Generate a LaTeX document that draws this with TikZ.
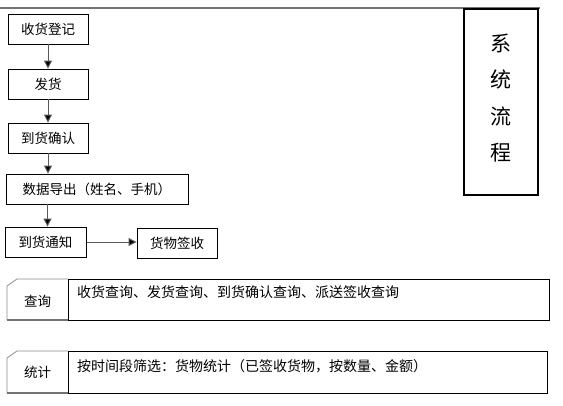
\documentclass[tikz,border=0pt]{standalone}
\usepackage{fontspec}
\setmainfont{Noto Sans CJK SC}
\usetikzlibrary{arrows.meta}
\begin{document}
\begin{tikzpicture}[x=1pt,y=-1pt,
  flowbox/.style={draw=black,line width=0.9pt,minimum height=30pt,inner sep=0pt,font=\fontsize{13.5}{15}\selectfont},
  flowarrow/.style={draw=black!65,line width=1pt,-{Triangle[length=8pt,width=8pt,fill=black]}},
  paneltext/.style={anchor=west,inner sep=0pt,font=\fontsize{14}{16}\selectfont},
  tabtext/.style={inner sep=0pt,font=\fontsize{13.5}{15}\selectfont}]
\useasboundingbox (0,0) rectangle (563,405);
% top rule
\coordinate (ruleL) at (0,8);
\coordinate (ruleR) at (540,8);
\draw[black!55,line width=2pt] (ruleL) -- (ruleR);
% title box
\node[draw=black,line width=2.4pt,minimum width=74pt,minimum height=186pt,inner sep=0pt] (title) at (501,102) {};
\node[font=\fontsize{21}{36.5}\selectfont,align=center,inner sep=0pt] (titletext) at (501,98) {系\\统\\流\\程};
% flow
\node[flowbox,minimum width=80pt] (a) at (48,29) {收货登记};
\node[flowbox,minimum width=80pt] (b) at (48,84) {发货};
\node[flowbox,minimum width=80pt] (c) at (48,138) {到货确认};
\node[flowbox,minimum width=182pt] (d) at (97,189) {数据导出（姓名、手机）};
\node[flowbox,minimum width=81pt] (e) at (45.5,242) {到货通知};
\node[flowbox,minimum width=80pt] (f) at (177,243) {货物签收};
\draw[flowarrow] (a.south) -- (b.north);
\draw[flowarrow] (b.south) -- (c.north);
\draw[flowarrow] (c.south) -- (c.south |- d.north);
\draw[flowarrow] ([xshift=-49.5pt]d.south) -- ([xshift=-49.5pt]d.south |- e.north);
\draw[flowarrow] ([xshift=1pt]e.east) -- ([yshift=1pt]f.west);
% query panel
\fill[white] (17,279) -- (68,279) -- (68,320) -- (7,320) -- (7,286) -- cycle;
\draw[black!45,line width=0.8pt] (7,320) -- (7,286) -- (17,279) -- (68,279);
\draw[black!55,line width=2pt] (7,320) -- (68,320);
\draw[black,line width=0.9pt] (68,279) rectangle (549,320);
\node[tabtext] (q) at (37.5,301) {查询};
\node[paneltext] (qt) at (77,292) {收货查询、发货查询、到货确认查询、派送签收查询};
% statistics panel
\fill[white] (17,351) -- (68,351) -- (68,393) -- (7,393) -- (7,358) -- cycle;
\draw[black!45,line width=0.8pt] (7,393) -- (7,358) -- (17,351) -- (68,351);
\draw[black!55,line width=2pt] (7,393) -- (68,393);
\draw[black,line width=0.9pt] (68,351) rectangle (547,393);
\node[tabtext] (s) at (37.5,372) {统计};
\node[paneltext] (st) at (77,366) {按时间段筛选：货物统计（已签收货物，按数量、金额）};
\end{tikzpicture}
\end{document}
